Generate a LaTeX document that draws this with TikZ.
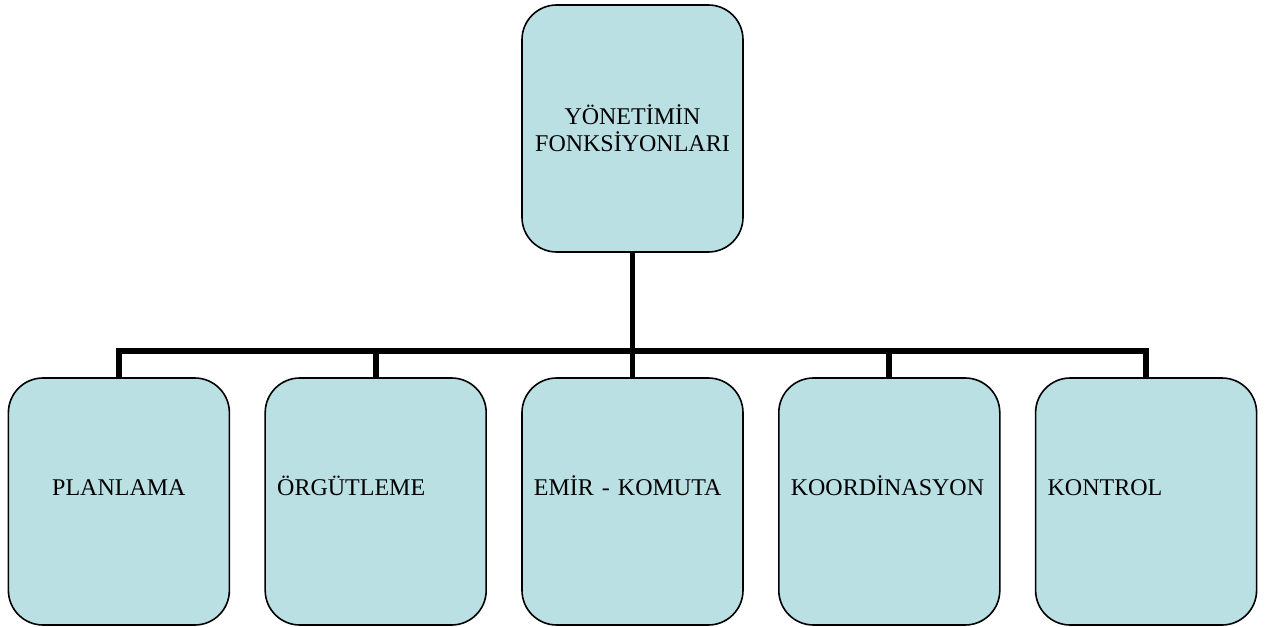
\documentclass[tikz,border=0pt]{standalone}
\usepackage{fontspec}
\setmainfont{Liberation Serif}
\usepackage{xcolor}
\usetikzlibrary{shapes,arrows,positioning,calc}

\definecolor{paleteal}{RGB}{186,224,227}

\begin{document}
\begin{tikzpicture}[
    level 1/.style={sibling distance=192.6pt, level distance=279.75pt},
    unit/.style={draw, line width=1.2pt, fill=paleteal, rounded corners=26pt, minimum width=165.75pt, minimum height=185.25pt, inner xsep=9pt, font=\fontsize{18}{20.25}\selectfont},
    duty/.style={unit, text height=12pt, text depth=21.75pt},
    dutyleft/.style={duty, align=left, text width=147.75pt},
    edge from parent/.style={draw, line width=4.3pt},
    edge from parent path={(\tikzparentnode.south) -- ++(0,-73.5pt) -| (\tikzchildnode.north)}
]
\useasboundingbox (-474.375pt,96.375pt) rectangle (478.125pt,-373.875pt);

\node[unit, align=center] (root) {YÖNETİMİN\\FONKSİYONLARI}
    child{node[duty] (plan) {PLANLAMA}}
    child{node[dutyleft] (org) {ÖRGÜTLEME}}
    child{node[dutyleft] (emir) {EMİR - KOMUTA}}
    child{node[dutyleft] (koord) {KOORDİNASYON}}
    child{node[dutyleft] (kontrol) {KONTROL}};

\end{tikzpicture}
\end{document}
